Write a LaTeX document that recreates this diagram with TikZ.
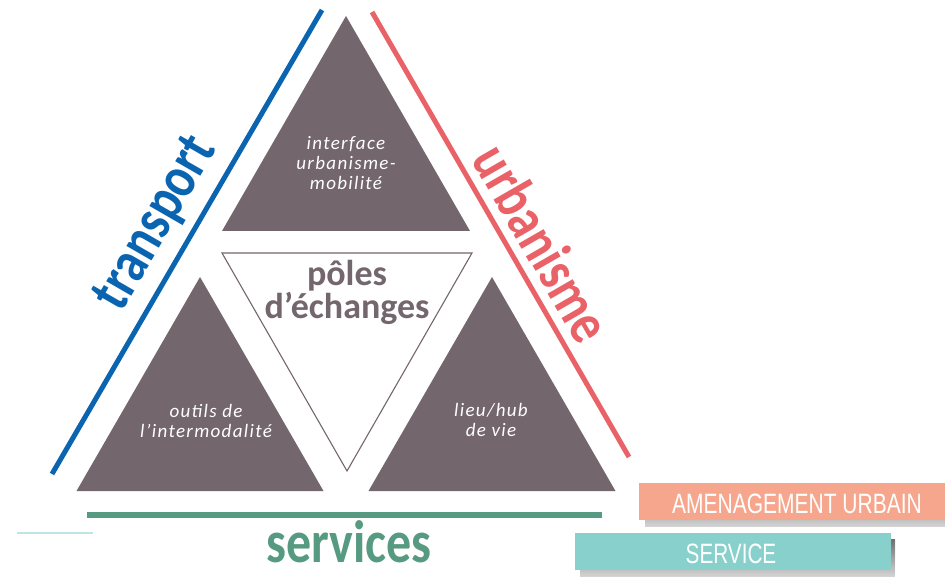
\documentclass[tikz,border=0pt]{standalone}
\usepackage{fontspec}
\usepackage{graphicx}
\setmainfont{Carlito}
\newfontfamily\capsfont{Liberation Sans}
\newfontfamily\tagfont[LetterSpace=7]{Carlito}

\definecolor{mauve}{RGB}{115,102,108}
\definecolor{tblue}{RGB}{10,100,176}
\definecolor{ured}{RGB}{233,98,104}
\definecolor{sgreen}{RGB}{86,154,130}
\definecolor{salmon}{RGB}{246,166,140}
\definecolor{aqua}{RGB}{136,208,204}
\definecolor{paleaqua}{RGB}{190,228,228}
\definecolor{shade}{RGB}{140,130,128}

\tikzset{
  piece/.style={fill=mauve},
  hollow/.style={draw=mauve, line width=1.1pt, fill=white, line join=miter},
  inlabel/.style={text=white, align=center, inner sep=0pt,
    font=\tagfont\itshape\fontsize{19}{20}\selectfont},
  sideline/.style={line width=5pt},
  sidelabel/.style={inner sep=0pt, font=\bfseries\fontsize{49}{49}\selectfont},
  tagtext/.style={text=white, inner sep=0pt, font=\capsfont\fontsize{28}{28}\selectfont},
}

\begin{document}
\begin{tikzpicture}[x=1pt, y=-1pt]
\useasboundingbox (0,0) rectangle (945,577);

% corner points of the four triangles
\coordinate (tA) at (346,16);  \coordinate (tL) at (222,231); \coordinate (tR) at (470,231);
\coordinate (lA) at (200,277); \coordinate (lL) at (76.5,491); \coordinate (lR) at (323.5,491);
\coordinate (rA) at (492,277); \coordinate (rL) at (368.5,491); \coordinate (rR) at (615.5,491);
\coordinate (iL) at (222,253); \coordinate (iR) at (472,253); \coordinate (iB) at (347,471);

% filled triangles
\fill[piece] (tA) -- (tL) -- (tR) -- cycle;
\fill[piece] (lA) -- (lL) -- (lR) -- cycle;
\fill[piece] (rA) -- (rL) -- (rR) -- cycle;
% central inverted triangle
\draw[hollow] (iL) -- (iR) -- (iB) -- cycle;

% labels inside the triangles
\node[inlabel] (top) at (346,163) {interface\\urbanisme-\\mobilité};
\node[inlabel] (left) at (206,421) {outils de\\l’intermodalité};
\node[inlabel] (right) at (491,420) {lieu/hub\\de vie};
\node[text=mauve, align=center, inner sep=0pt,
      font=\bfseries\fontsize{36}{33}\selectfont] (centre) at (347,292) {pôles\\d’échanges};

% side lines
\coordinate (bS) at (52,474);  \coordinate (bE) at (322,10);
\coordinate (rS) at (372,12);  \coordinate (rE) at (629,457);
\coordinate (gS) at (87,515);  \coordinate (gE) at (602,515);
\coordinate (pS) at (17,533);  \coordinate (pE) at (93,533);
\draw[sideline, tblue] (bS) -- (bE);
\draw[sideline, ured] (rS) -- (rE);
\draw[line width=6pt, sgreen] (gS) -- (gE);
\draw[line width=1.2pt, paleaqua] (pS) -- (pE);

% side labels
\node[sidelabel, text=tblue, rotate=60] (transport) at (157,224)
  {\scalebox{1}[1.22]{transport}};
\node[sidelabel, text=ured, rotate=-60] (urbanisme) at (543,243)
  {\scalebox{1}[1.22]{urbanisme}};
\node[sidelabel, text=sgreen, anchor=base] (services) at (349,562)
  {\scalebox{1.02}[1.22]{services}};

% tag boxes with drop shadows
\fill[shade, opacity=0.8] (645,489) rectangle (951,527);
\fill[salmon] (639,483) rectangle (945,520);
\fill[shade, opacity=0.8] (580,539) rectangle (895,577);
\fill[aqua] (575,533) rectangle (891,570);
\node[tagtext, anchor=base] (amenag) at (797,513)
  {\scalebox{0.75}[1]{AMENAGEMENT URBAIN}};
\node[tagtext, anchor=base] (service) at (731,563)
  {\scalebox{0.74}[1]{SERVICE}};
\end{tikzpicture}
\end{document}
